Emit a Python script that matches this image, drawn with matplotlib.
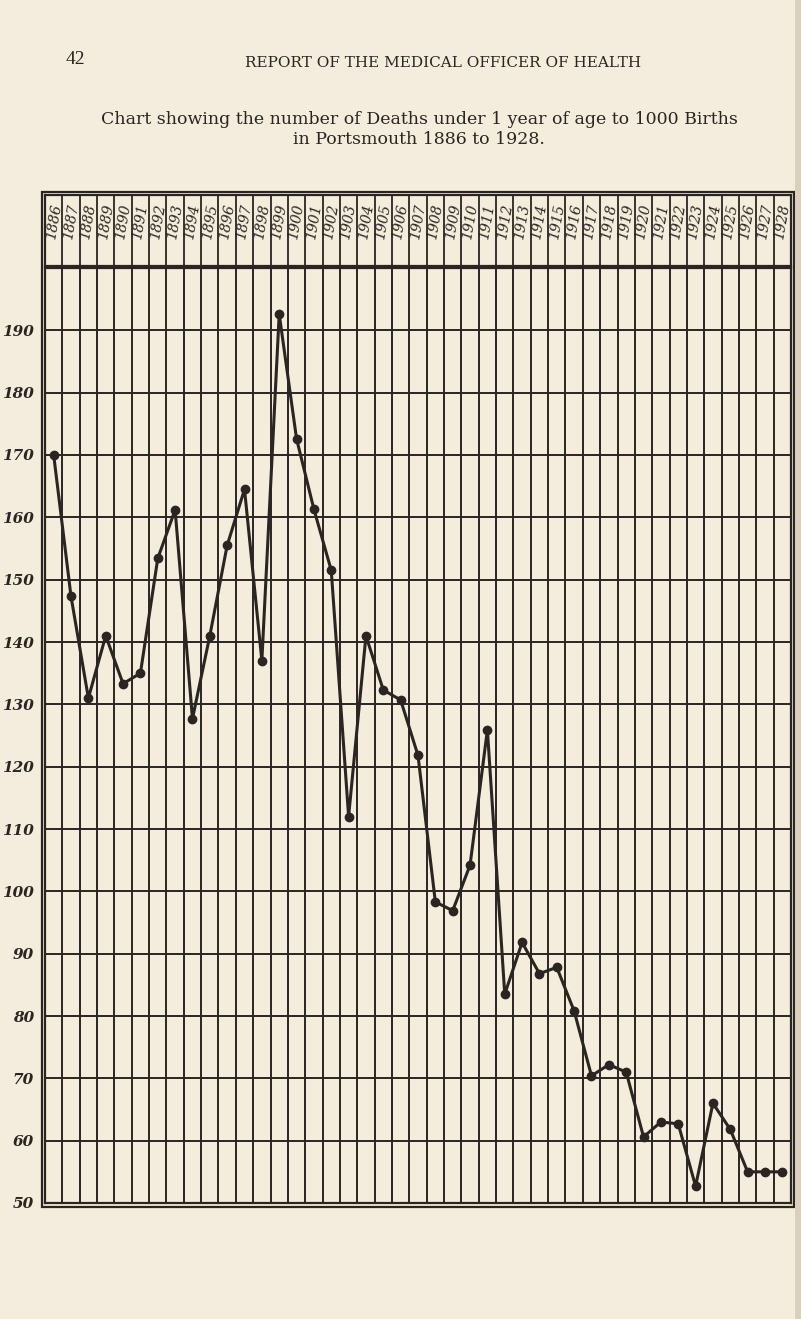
import numpy as np
import matplotlib.pyplot as plt
from matplotlib.patches import Rectangle

# Infant deaths under 1 year per 1000 births, Portsmouth
years = list(range(1886, 1929))
rates = [170, 147.3, 131, 141, 133.3, 135, 153.4, 161.2, 127.7, 141,
         155.5, 164.5, 137, 192.6, 172.6, 161.3, 151.5, 112, 141, 132.3,
         130.7, 121.8, 98.3, 96.9, 104.2, 125.9, 83.5, 91.8, 86.8, 87.8,
         80.8, 70.4, 72.2, 71, 60.6, 63, 62.7, 52.7, 66, 61.8,
         55, 55, 55]
y_ticks = list(range(50, 200, 10))

paper = '#f4ecdc'
ink = '#2a2520'
W, H = 801, 1319


def box(l, t, r, b):
    # pixel box -> figure fraction [left, bottom, width, height]
    return [l / W, 1 - b / H, (r - l) / W, (b - t) / H]


fig = plt.figure(figsize=(W / 100, H / 100), dpi=100, facecolor=paper)

# Page heading
fig.text(66 / W, 1 - 60 / H, '42', fontsize=14, family='Liberation Serif',
         color=ink, va='center', ha='left')
fig.text(443 / W, 1 - 63 / H, 'REPORT OF THE MEDICAL OFFICER OF HEALTH',
         fontsize=11, family='DejaVu Serif', color=ink, va='center', ha='center')
fig.text(419 / W, 1 - 124 / H,
         'Chart showing the number of Deaths under 1 year of age to 1000 Births',
         fontsize=12.5, family='DejaVu Serif', color=ink, va='baseline', ha='center')
fig.text(419 / W, 1 - 144 / H, 'in Portsmouth 1886 to 1928.',
         fontsize=12.5, family='DejaVu Serif', color=ink, va='baseline', ha='center')

# Main plotting area
ax = fig.add_axes(box(45, 268, 791, 1203))
ax.set_facecolor(paper)
x = np.arange(len(years))
ax.plot(x, rates, color=ink, lw=2.2, marker='o', ms=6, zorder=3)
ax.set_xlim(-0.5, len(years) - 0.5)
ax.set_ylim(50, 200)

ax.set_xticks(np.arange(0.5, len(years) - 1, 1))
ax.set_xticklabels([])
ax.set_yticks(y_ticks)
ax.set_yticklabels([str(v) for v in y_ticks], fontsize=11, style='italic',
                   weight='bold', family='DejaVu Serif', color=ink)
ax.tick_params(length=0, pad=8)
ax.grid(True, color=ink, lw=1.4)
ax.set_axisbelow(True)
for s in ax.spines.values():
    s.set_color(ink)
    s.set_linewidth(1.6)

# Header row with the years
hx = fig.add_axes(box(45, 195, 791, 266))
hx.set_facecolor(paper)
hx.set_xlim(-0.5, len(years) - 0.5)
hx.set_ylim(0, 1)
hx.set_xticks(np.arange(0.5, len(years) - 1, 1))
hx.set_xticklabels([])
hx.set_yticks([])
hx.tick_params(length=0)
hx.xaxis.grid(True, color=ink, lw=1.3)
for s in hx.spines.values():
    s.set_color(ink)
    s.set_linewidth(1.6)
for i, yr in enumerate(years):
    hx.text(i, 0.62, str(yr), rotation=80, ha='center', va='center',
            fontsize=10, style='italic', family='DejaVu Serif', color=ink)

# Outer double frame
fig.patches.append(Rectangle((42 / W, 1 - 1207 / H), 752 / W, 1015 / H,
                             transform=fig.transFigure, fill=False,
                             edgecolor=ink, lw=1.6))

# Shadow of the page edge on the right
fig.patches.append(Rectangle((795 / W, 0), 6 / W, 1, transform=fig.transFigure,
                             facecolor='#d9d0bf', edgecolor='none'))

plt.savefig('out.png', dpi=100, facecolor=paper)
